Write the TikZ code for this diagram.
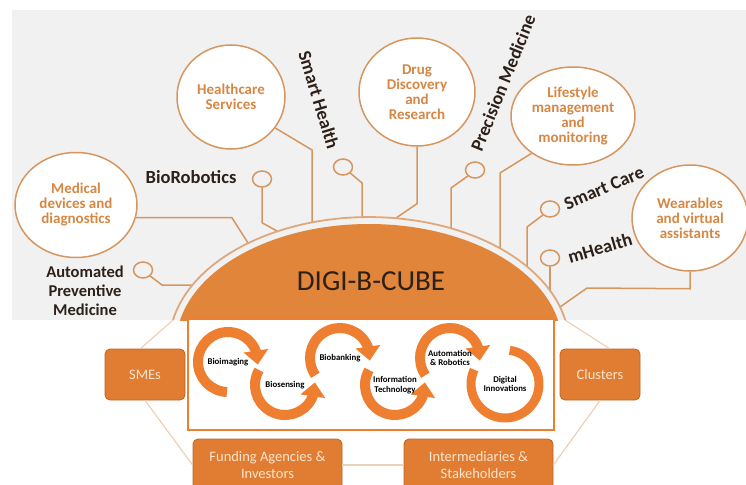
\documentclass[tikz,border=0pt]{standalone}
\usepackage{fontspec}
\setmainfont{Carlito}
\usetikzlibrary{positioning}
\usetikzlibrary{arrows.meta}
\usetikzlibrary{bending}
\usetikzlibrary{shapes.geometric}

\definecolor{bggray}{RGB}{241,241,241}
\definecolor{wirecol}{RGB}{214,150,96}
\definecolor{rimcol}{RGB}{222,168,124}
\definecolor{domecol}{RGB}{225,133,58}
\definecolor{boxcol}{RGB}{224,125,50}
\definecolor{boxline}{RGB}{190,100,35}
\definecolor{ringcol}{RGB}{238,126,48}
\definecolor{hexcol}{RGB}{238,208,180}
\definecolor{labcol}{RGB}{45,32,24}
\definecolor{bubtext}{RGB}{214,135,68}
\definecolor{boxtext}{RGB}{252,228,205}

\begin{document}
\begin{tikzpicture}[x=1pt,y=-1pt,
        bubble/.style={ellipse,draw=wirecol,line width=1.5pt,fill=white,text=bubtext,align=center,inner sep=0pt,font=\fontsize{15}{15}\selectfont\bfseries},
        hub/.style={ellipse,draw=wirecol,line width=1.5pt,fill=bggray,minimum width=19pt,minimum height=16pt,inner sep=0pt},
        wire/.style={draw=wirecol,line width=1.5pt},
        tag/.style={text=labcol,font=\fontsize{18.5}{19}\selectfont\bfseries},
        partner/.style={rectangle,rounded corners=5pt,fill=boxcol,draw=boxline,line width=0.8pt,text=boxtext,align=center,font=\fontsize{14.5}{17}\selectfont},
        link/.style={draw=hexcol,line width=1.2pt},
        cyc/.style={draw=ringcol,line width=10pt,-{Triangle[width=24pt,length=14pt]}},
        cyctext/.style={align=center,text=black,inner sep=0pt,font=\fontsize{8.8}{9.5}\selectfont\bfseries}]
        \useasboundingbox (0,0) rectangle (746,484);
        \fill[bggray] (12,10) rectangle (746,320);

        % application areas
        \node[bubble,minimum width=122pt,minimum height=105pt] (med) at (76,205) {Medical\\devices and\\diagnostics};
        \node[bubble,minimum width=108pt,minimum height=104pt] (care) at (231,97) {Healthcare\\Services};
        \node[bubble,minimum width=116pt,minimum height=108pt] (drug) at (417,92) {Drug\\Discovery\\and\\Research};
        \node[bubble,minimum width=124pt,minimum height=98pt] (life) at (573,116) {Lifestyle\\management\\and\\monitoring};
        \node[bubble,minimum width=116pt,minimum height=106pt] (wear) at (690,218) {Wearables\\and virtual\\assistants};

        \node[hub] (hBio) at (262,179) {};
        \node[hub] (hSH) at (343,167) {};
        \node[hub] (hPM) at (475,170) {};
        \node[hub] (hSC) at (550,209) {};
        \node[hub] (hMH) at (550,258) {};
        \node[hub] (hAPM) at (143,270) {};

        % ends on the rim
        \coordinate (dome) at (369,345);
        \coordinate (rimL) at (173,320);
        \coordinate (rimR) at (565,320);
        \coordinate (tMed) at (248,243);
        \coordinate (tBio) at (277,231);
        \coordinate (tCare) at (312,222);
        \coordinate (tSH) at (362,217);
        \coordinate (tDrug) at (396,218);
        \coordinate (tPM) at (451,228);
        \coordinate (tLife) at (500,248);
        \coordinate (tSC) at (527,266);
        \coordinate (tMH) at (550,290);
        \coordinate (tWear) at (560,307);
        \coordinate (tAPM) at (192,285);

        \draw[wire] (med.-12) -- ++(96,0) -- (tMed);
        \draw[wire] (hBio.south) -- ++(0,35) -- (tBio);
        \draw[wire] (care.-35) -- (tCare |- 0,150) -- (tCare);
        \draw[wire] (hSH.-40) -- (tSH |- 0,183) -- (tSH);
        \draw[wire] (drug.south) -- ++(0,57) -- (tDrug);
        \draw[wire] (hPM.-140) -- (tPM |- 0,188) -- (tPM);
        \draw[wire] (life.-138) -- (tLife |- 0,173) -- (tLife);
        \draw[wire] (hSC.-140) -- (tSC |- 0,227) -- (tSC);
        \draw[wire] (hMH.south) -- (tMH);
        \draw[wire] (wear.south) -- ++(0,17) -- (587,288) -- (tWear);
        \draw[wire] (hAPM.-40) -- (162,285) -- (tAPM);

        \node[tag] (lBio) at (191,177) {BioRobotics};
        \node[tag,rotate=-73] (lSH) at (319,100) {Smart Health};
        \node[tag,rotate=68] (lPM) at (503,83) {Precision Medicine};
        \node[tag,rotate=23] (lSC) at (604,188) {Smart Care};
        \node[tag,rotate=16] (lMH) at (600,248) {mHealth};
        \node[tag,align=center,font=\fontsize{16.5}{19}\selectfont\bfseries] (lAPM) at (85,291) {Automated\\Preventive\\Medicine};

        % dome
        \draw[rimcol,line width=1.8pt] (rimL) arc[start angle=168.7,end angle=11.3,x radius=200pt,y radius=128pt];
        \begin{scope}
            \clip (0,0) rectangle (746,320);
            \fill[domecol] (dome) ellipse[x radius=193pt,y radius=121pt];
        \end{scope}
        \node[font=\fontsize{29}{30}\selectfont,text=labcol] (digi) at (371,281) {DIGI-B-CUBE};

        % partners
        \node[partner,minimum width=80pt,minimum height=51pt] (sme) at (145,374.5) {SMEs};
        \node[partner,minimum width=80pt,minimum height=51pt] (clus) at (600,374.5) {Clusters};
        \node[partner,minimum width=149pt,minimum height=52pt] (fund) at (267.5,465) {Funding Agencies \&\\Investors};
        \node[partner,minimum width=149pt,minimum height=52pt] (inter) at (478.5,465) {Intermediaries \&\\Stakeholders};
        \draw[link] (rimL) -- (sme.100);
        \draw[link] (sme.south) -- (fund.west);
        \draw[link] (fund.east) -- (inter.west);
        \draw[link] (inter.east) -- (clus.south);
        \draw[link] (clus.70) -- (rimR);

        % technology cycle
        \node[draw=ringcol,line width=2.5pt,fill=white,minimum width=366pt,minimum height=111pt] (lab) at (371,374.5) {};
        \coordinate (c1) at (228,362);
        \coordinate (c2) at (285,385);
        \coordinate (c3) at (340,358);
        \coordinate (c4) at (395,385);
        \coordinate (c5) at (450,358);
        \coordinate (c6) at (505,384);
        \draw[cyc] ([shift={(268:30pt)}]c1) arc[start angle=268,end angle=-5,radius=30pt];
        \draw[cyc] ([shift={(150:30pt)}]c2) arc[start angle=150,end angle=365,radius=30pt];
        \draw[cyc] ([shift={(215:30pt)}]c3) arc[start angle=215,end angle=-5,radius=30pt];
        \draw[cyc] ([shift={(150:30pt)}]c4) arc[start angle=150,end angle=365,radius=30pt];
        \draw[cyc] ([shift={(215:30pt)}]c5) arc[start angle=215,end angle=-5,radius=30pt];
        \draw[ringcol,line width=9pt] ([shift={(82:34pt)}]c6) arc[start angle=82,end angle=-205,radius=34pt];
        \node[cyctext] (img) at (c1) {Bioimaging};
        \node[cyctext] (sens) at (c2) {Biosensing};
        \node[cyctext] (bank) at (c3) {Biobanking};
        \node[cyctext] (info) at (c4) {Information\\Technology};
        \node[cyctext] (auto) at (c5) {Automation\\\& Robotics};
        \node[cyctext] (digital) at (c6) {Digital\\Innovations};
\end{tikzpicture}
\end{document}
